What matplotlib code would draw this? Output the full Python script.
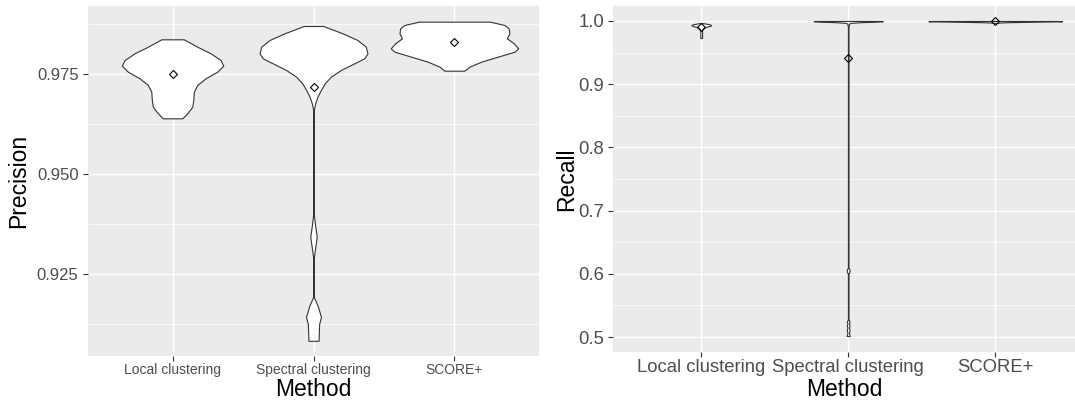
import matplotlib
matplotlib.use("Agg")
import matplotlib.pyplot as plt
from matplotlib.ticker import MultipleLocator

plt.rcParams["font.family"] = ["Liberation Sans", "DejaVu Sans"]

methods = ["Local clustering", "Spectral clustering", "SCORE+"]

# violin outlines: value levels (top -> bottom) and half widths
prec_local_y = [0.98367, 0.98183, 0.98017, 0.9785, 0.97708, 0.97558, 0.97392,
                0.97225, 0.97058, 0.9685, 0.96683, 0.96517, 0.96392]
prec_local_w = [0.080, 0.175, 0.270, 0.340, 0.360, 0.317, 0.234,
                0.175, 0.151, 0.147, 0.140, 0.104, 0.069]

prec_spec_y = [0.987, 0.98517, 0.9835, 0.98183, 0.98017, 0.97892, 0.97767, 0.976,
               0.97433, 0.97267, 0.971, 0.96933, 0.96767, 0.966, 0.9400, 0.9370,
               0.9343, 0.9316, 0.9290, 0.9193, 0.9170, 0.9143, 0.9125, 0.9083]
prec_spec_w = [0.069, 0.206, 0.312, 0.371, 0.383, 0.360, 0.289, 0.194,
               0.123, 0.080, 0.052, 0.028, 0.012, 0.002, 0.002, 0.012,
               0.023, 0.012, 0.002, 0.002, 0.030, 0.053, 0.040, 0.036]

prec_score_y = [0.98808, 0.98725, 0.98642, 0.98517, 0.98392, 0.98267, 0.98142,
                0.98058, 0.97933, 0.97808, 0.97683, 0.97583]
prec_score_w = [0.253, 0.355, 0.385, 0.390, 0.372, 0.421, 0.452,
                0.426, 0.307, 0.189, 0.106, 0.071]

rec_local_y = [0.9965, 0.9955, 0.9945, 0.9932, 0.992, 0.9905, 0.989, 0.987, 0.985, 0.973]
rec_local_w = [0.014, 0.040, 0.060, 0.068, 0.055, 0.030, 0.015, 0.008, 0.006, 0.006]

rec_spec_y = [1.0, 0.9995, 0.999, 0.998, 0.997, 0.996, 0.99, 0.61, 0.607, 0.605,
              0.603, 0.600, 0.528, 0.525, 0.524, 0.5215, 0.5195, 0.5174, 0.515,
              0.5125, 0.510, 0.507, 0.504, 0.5016]
rec_spec_w = [0.23, 0.235, 0.20, 0.08, 0.02, 0.006, 0.002, 0.002, 0.008, 0.010,
              0.008, 0.002, 0.002, 0.008, 0.009, 0.005, 0.008, 0.009, 0.005,
              0.008, 0.009, 0.005, 0.008, 0.010]

rec_score_y = [1.0, 0.9995, 0.999, 0.998, 0.9975, 0.997]
rec_score_w = [0.42, 0.454, 0.30, 0.08, 0.03, 0.01]

prec_means = [0.9749, 0.9718, 0.9829]
rec_means = [0.991, 0.942, 0.9993]

precision = [(prec_local_y, prec_local_w), (prec_spec_y, prec_spec_w),
             (prec_score_y, prec_score_w)]
recall = [(rec_local_y, rec_local_w), (rec_spec_y, rec_spec_w),
          (rec_score_y, rec_score_w)]


def style_ax(ax):
    ax.set_facecolor("#EBEBEB")
    for s in ax.spines.values():
        s.set_visible(False)
    ax.grid(which="major", color="white", linewidth=1.0)
    ax.grid(which="minor", axis="y", color="white", linewidth=0.5)
    ax.set_axisbelow(True)
    ax.tick_params(which="major", length=3.3, width=0.8, color="#333333",
                   labelcolor="#4D4D4D")
    ax.tick_params(which="minor", length=0)


def draw_violins(ax, profiles, means):
    for i, (ys, ws) in enumerate(profiles):
        pos = i + 1
        ax.fill_betweenx(ys, [pos - w for w in ws], [pos + w for w in ws],
                         facecolor="white", edgecolor="#333333", linewidth=0.8,
                         zorder=2)
    ax.plot(range(1, len(means) + 1), means, linestyle="none", marker="D",
            markersize=3.6, markerfacecolor="none", markeredgecolor="black",
            markeredgewidth=0.8, zorder=3)


fig = plt.figure(figsize=(10.75, 4.03), dpi=100)

ax1 = fig.add_axes([88 / 1075, 47 / 403, 451 / 1075, 350 / 403])
style_ax(ax1)
draw_violins(ax1, precision, prec_means)
ax1.set_xlim(0.4, 3.6)
ax1.set_ylim(0.9045, 0.992)
ax1.set_xticks([1, 2, 3])
ax1.set_xticklabels(methods)
ax1.yaxis.set_major_locator(MultipleLocator(0.025))
ax1.yaxis.set_minor_locator(MultipleLocator(0.0125))
ax1.yaxis.set_major_formatter(lambda v, p: f"{v:.3f}")
ax1.tick_params(axis="x", labelsize=10, pad=2)
ax1.tick_params(axis="y", labelsize=12, pad=3.5)
ax1.set_xlabel("Method", fontsize=16.5)
ax1.xaxis.set_label_coords(0.5, -0.064)
ax1.set_ylabel("Precision", fontsize=16.5, va="center")
ax1.yaxis.set_label_coords(-0.153, 0.5)

ax2 = fig.add_axes([613 / 1075, 51 / 403, 462 / 1075, 346 / 403])
style_ax(ax2)
draw_violins(ax2, recall, rec_means)
ax2.set_xlim(0.4, 0.4 + 462 / 147)
ax2.set_ylim(0.4763, 1.0237)
ax2.set_xticks([1, 2, 3])
ax2.set_xticklabels(methods)
ax2.yaxis.set_major_locator(MultipleLocator(0.1))
ax2.yaxis.set_minor_locator(MultipleLocator(0.05))
ax2.yaxis.set_major_formatter(lambda v, p: f"{v:.1f}")
ax2.tick_params(axis="x", labelsize=13.3, pad=2)
ax2.tick_params(axis="y", labelsize=13.3, pad=3)
ax2.set_xlabel("Method", fontsize=16.5)
ax2.xaxis.set_label_coords(0.5, -0.076)
ax2.set_ylabel("Recall", fontsize=16.5, va="center")
ax2.yaxis.set_label_coords(-0.1, 0.5)

fig.savefig("out.png", dpi=100)
